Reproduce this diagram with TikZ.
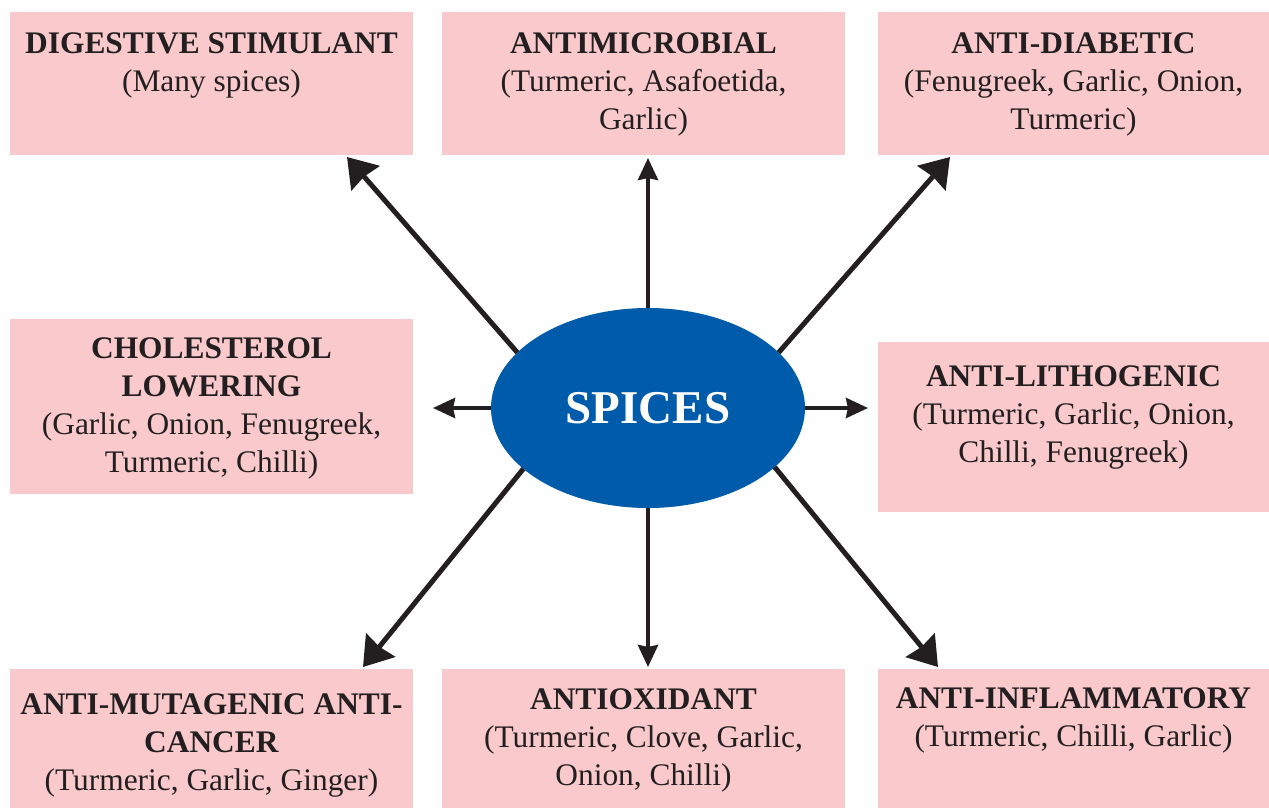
\documentclass[tikz,border=0pt]{standalone}
\usepackage{fontspec}
\setmainfont{Liberation Serif}
\usetikzlibrary{positioning,calc,arrows.meta,shapes.geometric}
\definecolor{boxpink}{RGB}{249,201,204}
\definecolor{spiceblue}{RGB}{0,91,170}
\definecolor{arrowdark}{RGB}{35,31,32}
\tikzset{
  effectbox/.style={fill=boxpink, draw=none, inner sep=0pt, outer sep=0pt, minimum width=201.5pt},
  effecttext/.style={inner sep=0pt, align=center, font=\fontsize{15.7}{19}\selectfont, text=arrowdark},
  bigarrow/.style={draw=arrowdark, line width=2.5pt, -{Stealth[length=14pt,width=18.5pt,inset=1pt]}},
  smallarrow/.style={draw=arrowdark, line width=2pt, -{Stealth[length=11pt,width=10pt,inset=1pt]}}
}
\begin{document}
\begin{tikzpicture}[x=0.5pt,y=-0.5pt]
\useasboundingbox (0,0) rectangle (1269,808);
% boxes
    \node[effectbox, minimum height=71.5pt] (digestive) at (211.5,83.5) {};
    \node[effectbox, minimum height=71.5pt] (antimicrobial) at (643.5,83.5) {};
    \node[effectbox, minimum height=71.5pt, minimum width=195.5pt] (diabetic) at (1073.5,83.5) {};
    \node[effectbox, minimum height=87.5pt] (cholesterol) at (211.5,406.5) {};
    \node[effectbox, minimum height=85pt, minimum width=195.5pt] (lithogenic) at (1073.5,427) {};
    \node[effectbox, minimum height=69.5pt] (mutagenic) at (211.5,738.5) {};
    \node[effectbox, minimum height=69.5pt] (antioxidant) at (643.5,738.5) {};
    \node[effectbox, minimum height=69.5pt, minimum width=195.5pt] (inflammatory) at (1073.5,738.5) {};
% texts
\node[effecttext, below=10pt of digestive.north] (digestiveText) {\textbf{DIGESTIVE STIMULANT}\\(Many spices)};
\node[effecttext, below=10pt of antimicrobial.north] (antimicrobialText) {\textbf{ANTIMICROBIAL}\\(Turmeric, Asafoetida,\\Garlic)};
\node[effecttext, below=10pt of diabetic.north] (diabeticText) {\textbf{ANTI-DIABETIC}\\(Fenugreek, Garlic, Onion,\\Turmeric)};
\node[effecttext, below=9pt of cholesterol.north] (cholesterolText) {\textbf{CHOLESTEROL}\\\textbf{LOWERING}\\(Garlic, Onion, Fenugreek,\\Turmeric, Chilli)};
\node[effecttext, below=11.5pt of lithogenic.north] (lithogenicText) {\textbf{ANTI-LITHOGENIC}\\(Turmeric, Garlic, Onion,\\Chilli, Fenugreek)};
\node[effecttext, below=12pt of mutagenic.north] (mutagenicText) {\textbf{ANTI-MUTAGENIC ANTI-}\\\textbf{CANCER}\\(Turmeric, Garlic, Ginger)};
\node[effecttext, below=9.5pt of antioxidant.north] (antioxidantText) {\textbf{ANTIOXIDANT}\\(Turmeric, Clove, Garlic,\\Onion, Chilli)};
\node[effecttext, below=9pt of inflammatory.north] (inflammatoryText) {\textbf{ANTI-INFLAMMATORY}\\(Turmeric, Chilli, Garlic)};
% centre
\node[ellipse, fill=spiceblue, inner sep=0pt, outer sep=0pt, minimum width=157pt, minimum height=100pt,
      text=white, font=\fontsize{23.5}{28}\selectfont\bfseries] (spices) at (648,408) {SPICES};
% arrows
    \draw[bigarrow] (spices.157) -- ($(digestive.south east)+(-66,2)$);
    \draw[smallarrow] (spices.north) -- ($(spices.north |- antimicrobial.south)+(0,3)$);
    \draw[bigarrow] (spices.23) -- ($(diabetic.south west)+(72,2)$);
    \draw[smallarrow] (spices.west) -- ($(spices.west -| cholesterol.east)+(20,0)$);
    \draw[smallarrow] (spices.east) -- ($(spices.east -| lithogenic.west)+(-10,0)$);
    \draw[bigarrow] (spices.206) -- ($(mutagenic.north east)+(-50,-2)$);
    \draw[smallarrow] (spices.south) -- ($(spices.south |- antioxidant.north)+(0,-2)$);
    \draw[bigarrow] (spices.335) -- ($(inflammatory.north west)+(60,-2)$);
\end{tikzpicture}
\end{document}
